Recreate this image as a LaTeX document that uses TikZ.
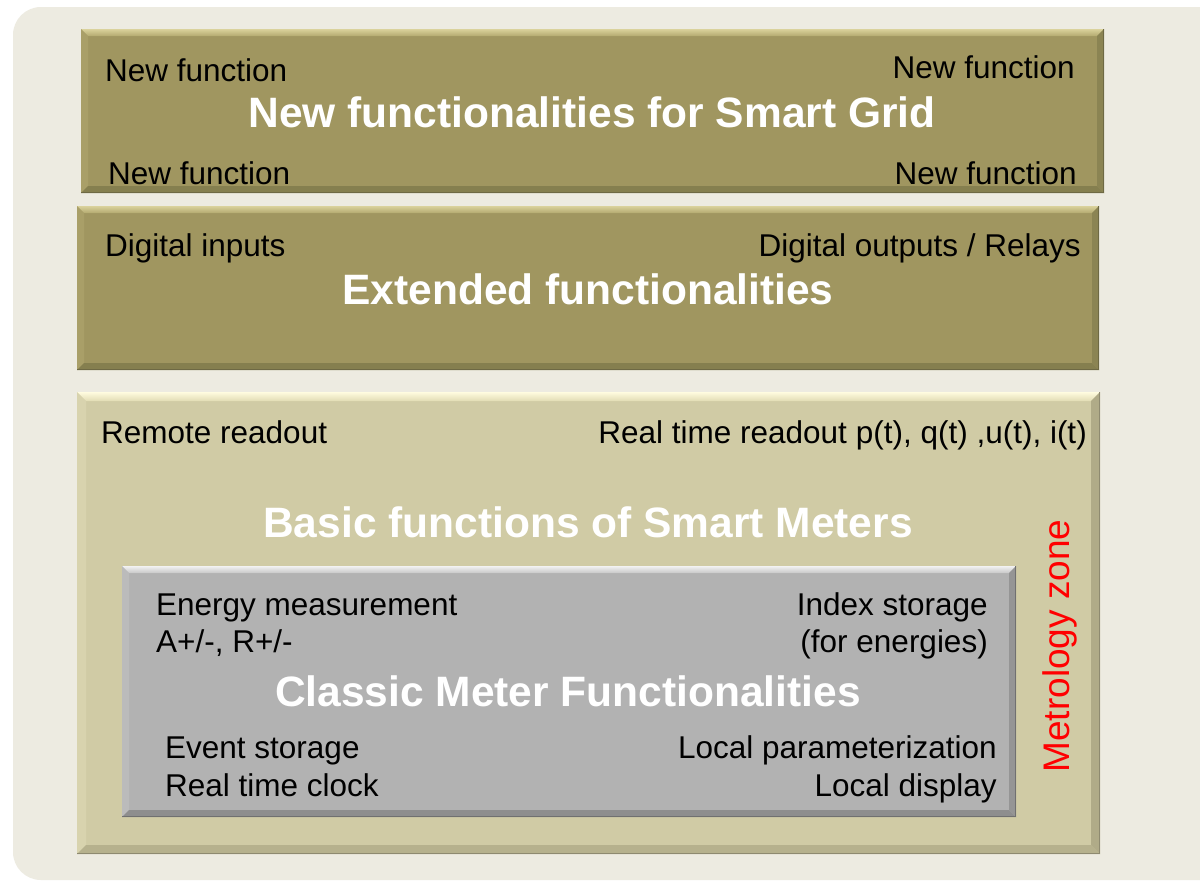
\documentclass[tikz,border=0pt]{standalone}
\usepackage{fontspec}
\setmainfont{Liberation Sans}
\usetikzlibrary{calc}
\definecolor{pagebg}{HTML}{EDEBE1}
\definecolor{olive}{HTML}{A09660}
\definecolor{olivelt}{HTML}{DAD29C}
\definecolor{olivemid}{HTML}{B4AA70}
\definecolor{olivel}{HTML}{A99F68}
\definecolor{oliveb}{HTML}{857F4F}
\definecolor{oliver}{HTML}{8B8453}
\definecolor{oliveline}{HTML}{6E6944}
\definecolor{sand}{HTML}{D0CBA5}
\definecolor{sandlt}{HTML}{FFFCE0}
\definecolor{sandmid}{HTML}{E2DCB4}
\definecolor{sandl}{HTML}{D8D3AE}
\definecolor{sandb}{HTML}{B6B18D}
\definecolor{sandr}{HTML}{B0AB88}
\definecolor{sandline}{HTML}{8E8A70}
\definecolor{grey}{HTML}{B2B2B2}
\definecolor{greylt}{HTML}{F2F2F2}
\definecolor{greymid}{HTML}{C8C8C8}
\definecolor{greyl}{HTML}{BBBBBB}
\definecolor{greyb}{HTML}{8E8E8E}
\definecolor{greyr}{HTML}{959595}
\definecolor{greyline}{HTML}{707070}
\newcommand\bevelbox[7]{%
  % #1 node, #2 width, #3 top style, #4 left, #5 bottom, #6 right, #7 outline
  \path[#3] (#1.north west) -- (#1.north east) -- ([shift={(-#2,#2)}]#1.north east) -- ([shift={(#2,#2)}]#1.north west) -- cycle;
  \fill[#4] (#1.north west) -- ([shift={(#2,#2)}]#1.north west) -- ([shift={(#2,-#2)}]#1.south west) -- (#1.south west) -- cycle;
  \fill[#5] (#1.south west) -- ([shift={(#2,-#2)}]#1.south west) -- ([shift={(-#2,-#2)}]#1.south east) -- (#1.south east) -- cycle;
  \fill[#6] (#1.north east) -- ([shift={(-#2,#2)}]#1.north east) -- ([shift={(-#2,-#2)}]#1.south east) -- (#1.south east) -- cycle;
  \draw[#7,line width=1.2pt] ([xshift=-0.6pt]#1.north east) -- ([shift={(-0.6,-0.6)}]#1.south east) -- ([yshift=0.6pt]#1.south west);
}
\tikzset{
  box/.style={rectangle,inner sep=0pt,outer sep=0pt,anchor=north west},
  small/.style={inner sep=0pt,text=black,font=\fontsize{31.5}{36}\selectfont},
  title/.style={inner sep=0pt,text=white,font=\fontsize{42.5}{48}\selectfont\bfseries},
}
\begin{document}
\begin{tikzpicture}[x=1pt,y=-1pt]
\useasboundingbox (0,0) rectangle (1200,881);
\fill[white] (0,0) rectangle (1200,881);
\begin{scope}
\clip (0,0) rectangle (1200,881);
\fill[pagebg,rounded corners=28pt] (13,7) rectangle (1240,880);
\end{scope}
% box 1
\node[box,fill=olive,minimum width=1023pt,minimum height=164pt] (b1) at (81,29) {};
\bevelbox{b1}{7}{top color=olivelt,bottom color=olivemid}{olivel}{oliveb}{oliver}{oliveline}
% box 2
\node[box,fill=olive,minimum width=1022pt,minimum height=164pt] (b2) at (77,206) {};
\bevelbox{b2}{7}{top color=olivelt,bottom color=olivemid}{olivel}{oliveb}{oliver}{oliveline}
% box 3
\node[box,fill=sand,minimum width=1023pt,minimum height=462pt] (b3) at (77,392) {};
\bevelbox{b3}{9}{top color=sandlt,bottom color=sandmid}{sandl}{sandb}{sandr}{sandline}
% box 4
\node[box,fill=grey,minimum width=894pt,minimum height=251pt] (b4) at (122,566) {};
\bevelbox{b4}{7}{top color=greylt,bottom color=greymid}{greyl}{greyb}{greyr}{greyline}
% texts box 1
\node[small,anchor=base west] (nf1) at (105,81) {New function};
\node[small,anchor=base east] (nf2) at (1075,78) {New function};
\node[small,anchor=base west] (nf3) at (108,184) {New function};
\node[small,anchor=base east] (nf4) at (1077,184) {New function};
\node[title,anchor=base] (t1) at (592,127) {New functionalities for Smart Grid};
% texts box 2
\node[small,anchor=base west] (di) at (105,256) {Digital inputs};
\node[small,anchor=base east] (do) at (1081,256) {Digital outputs / Relays};
\node[title,anchor=base] (t2) at (588,304) {Extended functionalities};
% texts box 3
\node[small,anchor=base west] (rr) at (101,443) {Remote readout};
\node[small,anchor=base east] (rt) at (1087,443) {Real time readout p(t), q(t) ,u(t), i(t)};
\node[title,anchor=base] (t3) at (588,537) {Basic functions of Smart Meters};
\node[inner sep=0pt,text=red,font=\fontsize{37}{42}\selectfont,rotate=90] (mz) at (1060,646) {Metrology zone};
% texts box 4
\node[small,anchor=base west] (em) at (156,615) {Energy measurement};
\node[small,anchor=base west] (ar) at (156,652) {A+/-, R+/-};
\node[small,anchor=base east] (is) at (988,615) {Index storage};
\node[small,anchor=base east] (fe) at (988,652) {(for energies)};
\node[title,anchor=base] (t4) at (568,706) {Classic Meter Functionalities};
\node[small,anchor=base west] (es) at (165,758) {Event storage};
\node[small,anchor=base west] (rc) at (165,796) {Real time clock};
\node[small,anchor=base east] (lp) at (997,758) {Local parameterization};
\node[small,anchor=base east] (ld) at (997,796) {Local display};
\end{tikzpicture}
\end{document}
